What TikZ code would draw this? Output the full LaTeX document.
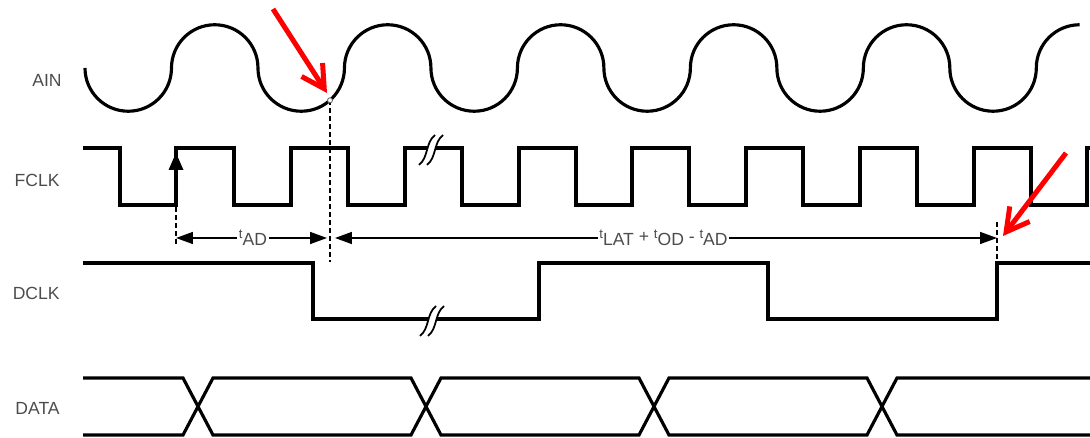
\documentclass[tikz,border=0pt]{standalone}
\usepackage{fontspec}
\setmainfont{Liberation Sans}
\usepackage{tikz}
\usetikzlibrary{arrows.meta}

\newcommand{\tlbl}[1]{\raisebox{0.45ex}{\fontsize{7.5}{8}\selectfont t}\raisebox{-0.35ex}{#1}}

\begin{document}
\begin{tikzpicture}[x=0.02cm,y=-0.02cm]
        \useasboundingbox (0,0) rectangle (1090,438);
        \begin{scope}[every node/.style={text=black!70,font=\fontsize{10}{12}\selectfont,inner sep=0pt,anchor=east}]
            \node (ain) at (62,80) {AIN};
            \node (fclk) at (60,180) {FCLK};
            \node (dclk) at (60,293) {DCLK};
            \node (data) at (60,408) {DATA};
        \end{scope}

        \coordinate (samp) at (330,100.3);
        \coordinate (d1t) at (176,207);
        \coordinate (d1b) at (176,245);
        \coordinate (d2b) at (330,262);
        \coordinate (d3t) at (997,222);
        \coordinate (d3b) at (997,263);
        \coordinate (m1) at (176,238);
        \coordinate (m2) at (330,238);
        \coordinate (m3) at (997,238);
        \coordinate (r1s) at (273,9);
        \coordinate (r1t) at (327,93);
        \coordinate (r2s) at (1066,153);
        \coordinate (r2t) at (1003,236);

        \begin{scope}[line width=1.8pt]
            \draw (85,68)
                arc[start angle=180,end angle=360,radius=0.865cm]
                arc[start angle=180,end angle=0,radius=0.865cm]
                arc[start angle=180,end angle=360,radius=0.865cm]
                arc[start angle=180,end angle=0,radius=0.865cm]
                arc[start angle=180,end angle=360,radius=0.865cm]
                arc[start angle=180,end angle=0,radius=0.865cm]
                arc[start angle=180,end angle=360,radius=0.865cm]
                arc[start angle=180,end angle=0,radius=0.865cm]
                arc[start angle=180,end angle=360,radius=0.865cm]
                arc[start angle=180,end angle=0,radius=0.865cm]
                arc[start angle=180,end angle=360,radius=0.865cm]
                arc[start angle=180,end angle=90,radius=0.865cm];

            \draw (83,148) -- (120,148) -- (120,205) -- (176,205) -- (176,148) -- (234,148) -- (234,205)
                -- (291,205) -- (291,148) -- (348,148) -- (348,205) -- (405,205) -- (405,148) -- (462,148)
                -- (462,205) -- (519,205) -- (519,148) -- (576,148) -- (576,205) -- (632,205) -- (632,148)
                -- (689,148) -- (689,205) -- (746,205) -- (746,148) -- (803,148) -- (803,205) -- (860,205)
                -- (860,148) -- (917,148) -- (917,205) -- (974,205) -- (974,148) -- (1031,148) -- (1031,205)
                -- (1087,205) -- (1087,148) -- (1092,148);

            \draw (83,263) -- (313,263) -- (313,319) -- (539,319) -- (539,263) -- (768,263) -- (768,319)
                -- (997,319) -- (997,263) -- (1092,263);

            \draw (83,378) -- (183,378) -- (213,435) -- (411,435) -- (441,378) -- (639,378) -- (669,435)
                -- (867,435) -- (897,378) -- (1092,378);
            \draw (83,435) -- (183,435) -- (213,378) -- (411,378) -- (441,435) -- (639,435) -- (669,378)
                -- (867,378) -- (897,435) -- (1092,435);
        \end{scope}

        \fill (176,153) -- (168.5,170) -- (183.5,170) -- cycle;

        \draw[white,line width=0.15cm] (423,165) .. controls (432.7,157.4) and (429.3,142.6) .. (439,135);
        \draw[line width=1pt] (419,165) .. controls (428.7,157.4) and (425.3,142.6) .. (435,135);
        \draw[line width=1pt] (427,165) .. controls (436.7,157.4) and (433.3,142.6) .. (443,135);

        \draw[white,line width=0.15cm] (424,336) .. controls (433.7,328.4) and (430.3,313.6) .. (440,306);
        \draw[line width=1pt] (420,336) .. controls (429.7,328.4) and (426.3,313.6) .. (436,306);
        \draw[line width=1pt] (428,336) .. controls (437.7,328.4) and (434.3,313.6) .. (444,306);

        \begin{scope}[every edge/.style={draw,line width=1pt,dash pattern=on 0.1cm off 0.06cm}]
            \path [-] (d1t) edge (d1b);
            \path [-] (samp) edge (d2b);
            \path [-] (d3t) edge (d3b);
        \end{scope}
        \draw[black!60,line width=0.5pt,fill=white] (samp) circle[radius=0.05cm];

        \begin{scope}[every edge/.style={draw,line width=0.9pt,{Triangle[length=0.34cm,width=0.24cm]}-{Triangle[length=0.34cm,width=0.24cm]}},
                      every node/.style={fill=white,text=black!70,font=\fontsize{10}{12}\selectfont,inner sep=1pt}]
            \path (m1) edge[shorten >=0.06cm] node (tad) {\tlbl{AD}} (m2);
            \path (m2) edge[shorten <=0.1cm] node (tsum) {\tlbl{LAT} + \tlbl{OD} - \tlbl{AD}} (m3);
        \end{scope}

        \begin{scope}[every edge/.style={draw,red,line width=0.1cm,-{Straight Barb[length=0.45cm,width=0.5cm]}}]
            \path (r1s) edge (r1t);
            \path (r2s) edge (r2t);
        \end{scope}
\end{tikzpicture}
\end{document}
